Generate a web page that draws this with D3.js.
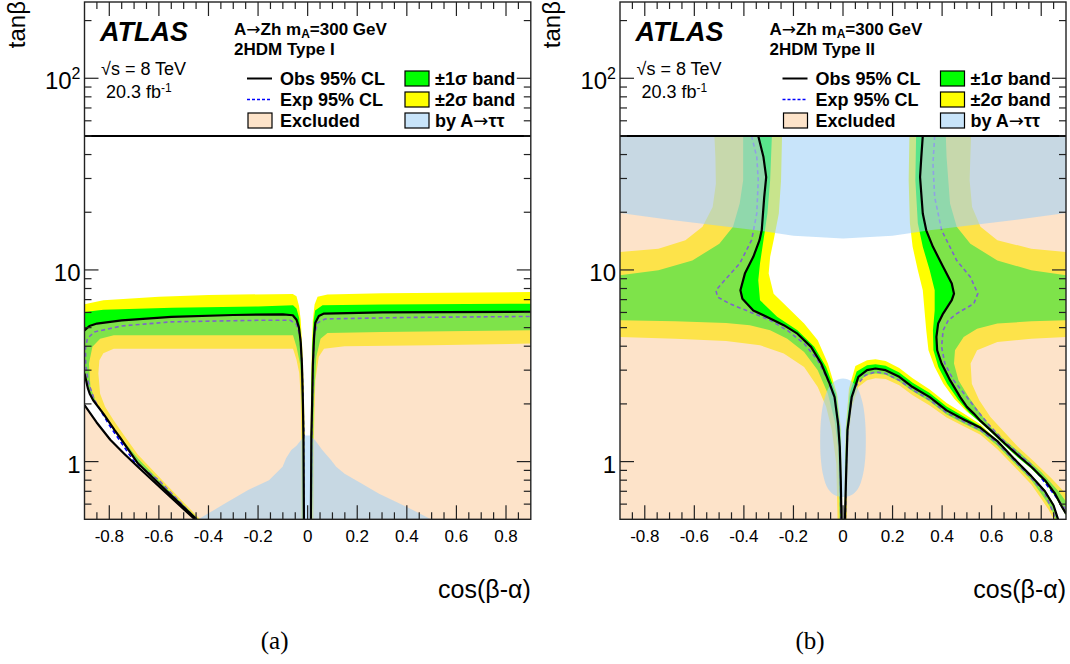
<!DOCTYPE html>
<html>
<head>
<meta charset="utf-8">
<script src="https://cdn.jsdelivr.net/npm/d3@7/dist/d3.min.js"></script>
<style>
html,body{margin:0;padding:0;background:#fff;}
svg{display:block;}
text{font-family:"Liberation Sans",Arial,Helvetica,sans-serif;fill:#000;}
.arr{font-family:"DejaVu Sans",sans-serif;font-weight:normal;}
</style>
</head>
<body>
<svg id="chart" width="1070" height="664"></svg>
<script>
// ---------------- axis data ----------------
const xDomain = [-0.9, 0.9];
const yDomain = [0.5, 250];
const tanbLimit = 50;
const xMajorTicks = [-0.8,-0.6,-0.4,-0.2,0,0.2,0.4,0.6,0.8];
const xTickLabels = ["-0.8","-0.6","-0.4","-0.2","0","0.2","0.4","0.6","0.8"];
const xMinorTicks = [-0.85,-0.75,-0.7,-0.65,-0.55,-0.5,-0.45,-0.35,-0.3,-0.25,-0.15,-0.1,-0.05,0.05,0.1,0.15,0.25,0.3,0.35,0.45,0.5,0.55,0.65,0.7,0.75,0.85];
const yMajorTicks = [1, 10, 100];
const yTickBase = ["1", "10", "10"];
const yTickExp = ["", "", "2"];
const yMinorTicks = [0.6,0.7,0.8,0.9,2,3,4,5,6,7,8,9,20,30,40,50,60,70,80,90,200];
const legendLabels = ["Obs 95% CL", "Exp 95% CL", "Excluded", "\u00B11\u03C3 band", "\u00B12\u03C3 band", "by A|\u03C4\u03C4"];

// ---------------- Type I data (cos(b-a), tan b) ----------------
const obsI_L = [[-0.9,4.84],[-0.88,5.1],[-0.85,5.25],[-0.75,5.45],[-0.55,5.69],[-0.3,5.82],[-0.1,5.87],[-0.06,5.8],[-0.045,5.5],[-0.035,5.0],[-0.028,4.2],[-0.023,3.2],[-0.019,2.0],[-0.017,1.37],[-0.015,0.5]];
const obsI_R = [[0.013,0.5],[0.015,1.37],[0.018,2.0],[0.021,3.2],[0.026,4.5],[0.031,5.3],[0.045,5.75],[0.066,5.92],[0.3,6.0],[0.9,6.05]];
const obsI_S1 = [[-0.9,2.88],[-0.886,2.4],[-0.879,2.26],[-0.865,2.09],[-0.824,1.78],[-0.78,1.47],[-0.754,1.32],[-0.685,0.98],[-0.573,0.71],[-0.448,0.5]];
const obsI_S2 = [[-0.9,1.97],[-0.851,1.6],[-0.796,1.3],[-0.74,1.1],[-0.685,0.94],[-0.573,0.69],[-0.455,0.5]];
const expI_L = [[-0.448,0.5],[-0.6,0.8],[-0.7,1.0],[-0.8,1.55],[-0.86,2.1],[-0.885,2.6],[-0.895,3.2],[-0.896,3.9],[-0.888,4.4],[-0.86,4.75],[-0.75,5.1],[-0.55,5.36],[-0.2,5.46],[-0.07,5.46],[-0.045,5.2],[-0.03,4.5],[-0.022,3.0],[-0.016,1.4],[-0.014,0.5]];
const expI_R = [[0.014,0.5],[0.017,1.4],[0.022,3.0],[0.028,4.6],[0.04,5.3],[0.07,5.55],[0.4,5.65],[0.9,5.72]];
const yelI_L = [[-0.9,6.62],[-0.824,6.95],[-0.6,7.25],[-0.4,7.4],[-0.06,7.5],[-0.045,7.3],[-0.035,6.5],[-0.028,5.5],[-0.022,4.0],[-0.016,2.5],[-0.012,1.37],[-0.012,0.5],[-0.025,0.5],[-0.026,1.46],[-0.028,2.17],[-0.034,2.9],[-0.045,3.4],[-0.059,3.88],[-0.782,3.88],[-0.824,3.68],[-0.84,3.38],[-0.844,2.88],[-0.837,2.26],[-0.817,1.93],[-0.782,1.64],[-0.74,1.37],[-0.685,1.09],[-0.573,0.767],[-0.434,0.5],[-0.448,0.5],[-0.573,0.71],[-0.685,0.98],[-0.754,1.32],[-0.78,1.47],[-0.824,1.78],[-0.865,2.09],[-0.879,2.26],[-0.886,2.4],[-0.9,2.88]];
const grnI_L = [[-0.9,6.04],[-0.824,6.2],[-0.546,6.35],[-0.2,6.45],[-0.059,6.54],[-0.045,6.3],[-0.034,5.6],[-0.025,4.0],[-0.019,2.5],[-0.015,1.37],[-0.014,0.5],[-0.021,0.5],[-0.022,1.46],[-0.025,2.5],[-0.031,3.25],[-0.045,3.97],[-0.059,4.56],[-0.782,4.56],[-0.837,4.38],[-0.868,3.97],[-0.882,3.25],[-0.876,2.45],[-0.851,2.01],[-0.796,1.58],[-0.74,1.27],[-0.685,1.04],[-0.573,0.737],[-0.441,0.5],[-0.448,0.5],[-0.573,0.71],[-0.685,0.98],[-0.754,1.32],[-0.78,1.47],[-0.824,1.78],[-0.865,2.09],[-0.879,2.26],[-0.886,2.4],[-0.9,2.88]];
const yelI_R = [[0.011,0.5],[0.012,1.37],[0.014,2.5],[0.017,4.0],[0.021,5.5],[0.028,6.6],[0.04,7.25],[0.08,7.45],[0.3,7.55],[0.9,7.67],[0.9,4.13],[0.5,4.05],[0.149,4.0],[0.066,3.88],[0.045,3.52],[0.031,2.66],[0.026,1.46],[0.023,0.5]];
const grnI_R = [[0.012,0.5],[0.013,1.37],[0.016,2.5],[0.019,4.0],[0.024,5.4],[0.03,6.15],[0.06,6.54],[0.3,6.6],[0.9,6.67],[0.9,4.84],[0.3,4.75],[0.08,4.69],[0.052,4.38],[0.035,3.52],[0.026,2.17],[0.022,1.2],[0.018,0.5]];
const tauI = [[-0.441,0.5],[-0.337,0.6],[-0.24,0.71],[-0.156,0.8],[-0.101,0.94],[-0.087,1.04],[-0.066,1.15],[-0.045,1.21],[-0.024,1.31],[-0.01,1.37],[0.01,1.37],[0.031,1.29],[0.059,1.15],[0.094,1.02],[0.115,0.94],[0.149,0.865],[0.219,0.767],[0.288,0.68],[0.4,0.58],[0.497,0.5]];

// ---------------- Type II data ----------------
const obsII_L = [[-0.342,50],[-0.321,38.8],[-0.31,30.5],[-0.318,24],[-0.328,16.1],[-0.337,14.3],[-0.362,11.7],[-0.396,9.57],[-0.414,7.83],[-0.406,7.08],[-0.362,6.15],[-0.294,5.58],[-0.239,5.15],[-0.184,4.65],[-0.129,3.97],[-0.088,3.25],[-0.054,2.55],[-0.034,2.17],[-0.02,1.58],[-0.013,1.19],[-0.009,0.8],[-0.006,0.5]];
const obsII_R = [[0.322,50],[0.316,38.8],[0.311,30.5],[0.322,19.7],[0.336,16.1],[0.363,13.2],[0.404,10.4],[0.439,8.49],[0.448,7.52],[0.439,6.95],[0.404,5.92],[0.384,5.25],[0.377,4.47],[0.38,3.81],[0.398,3.25],[0.432,2.66],[0.473,2.17],[0.5,1.93],[0.528,1.78],[0.555,1.63],[0.596,1.46],[0.651,1.25],[0.706,1.08],[0.76,0.94],[0.815,0.8],[0.856,0.68],[0.884,0.58],[0.9,0.535]];
const obsII_M = [[0.008,0.5],[0.012,0.8],[0.018,1.46],[0.035,2.17],[0.062,2.77],[0.097,3.0],[0.131,3.06],[0.172,3.0],[0.227,2.77],[0.281,2.45],[0.35,2.17],[0.418,1.85],[0.487,1.66],[0.555,1.5],[0.623,1.28],[0.692,1.03],[0.76,0.84],[0.815,0.7],[0.85,0.59],[0.868,0.5]];
const expII_L = [[-0.369,50],[-0.348,38.8],[-0.342,29.4],[-0.348,19.7],[-0.369,14.3],[-0.417,10.8],[-0.478,8.83],[-0.513,7.83],[-0.506,7.22],[-0.458,6.67],[-0.376,6.04],[-0.294,5.46],[-0.225,4.84],[-0.157,4.13],[-0.102,3.38],[-0.061,2.66],[-0.034,2.09],[-0.017,1.58],[-0.012,0.98],[-0.009,0.5]];
const expII_R = [[0.37,50],[0.363,35.9],[0.37,24],[0.398,16.1],[0.459,11.2],[0.514,9.19],[0.544,7.52],[0.528,6.67],[0.459,5.92],[0.425,5.46],[0.404,4.84],[0.398,3.97],[0.411,3.25],[0.446,2.66],[0.5,2.17],[0.541,1.85],[0.59,1.55],[0.651,1.28],[0.76,0.96],[0.9,0.56]];
const expII_M = [[0.01,0.5],[0.013,0.9],[0.02,1.5],[0.035,2.1],[0.049,2.45],[0.09,2.82],[0.131,2.94],[0.172,2.88],[0.227,2.66],[0.281,2.37],[0.35,2.1],[0.418,1.8],[0.487,1.62],[0.555,1.46],[0.623,1.25],[0.692,1.01],[0.76,0.82],[0.815,0.68],[0.86,0.5]];
const yelII_L = [[-0.246,50],[-0.25,29.4],[-0.259,19.7],[-0.28,14.3],[-0.294,11.7],[-0.3,9.57],[-0.28,7.52],[-0.225,6.41],[-0.157,5.25],[-0.102,4.3],[-0.061,3.25],[-0.024,2.26],[-0.008,1.46],[-0.004,0.5],[-0.022,0.5],[-0.027,0.976],[-0.045,1.46],[-0.068,1.93],[-0.102,2.45],[-0.157,3.12],[-0.239,3.66],[-0.335,4.05],[-0.472,4.26],[-0.677,4.38],[-0.9,4.47],[-0.9,12.4],[-0.745,12.9],[-0.636,14.3],[-0.567,16.8],[-0.526,21.3],[-0.513,28.2],[-0.515,38.8],[-0.519,50]];
const grnII_L = [[-0.287,50],[-0.294,29.4],[-0.305,19.7],[-0.321,14.3],[-0.335,10.8],[-0.342,8.83],[-0.335,6.95],[-0.266,5.69],[-0.184,4.84],[-0.116,3.97],[-0.068,3.12],[-0.028,2.26],[-0.011,1.46],[-0.005,0.5],[-0.014,0.5],[-0.02,1.19],[-0.034,1.64],[-0.061,2.26],[-0.102,3.0],[-0.157,3.73],[-0.225,4.38],[-0.294,4.84],[-0.376,5.15],[-0.472,5.29],[-0.677,5.4],[-0.9,5.46],[-0.9,9.38],[-0.745,9.96],[-0.608,11.2],[-0.499,13.7],[-0.444,16.8],[-0.417,22.2],[-0.403,29.4],[-0.403,38.8],[-0.403,50]];
const yelII_R = [[0.268,50],[0.265,29.4],[0.27,17.5],[0.281,13.2],[0.302,9.96],[0.322,7.83],[0.329,6.15],[0.336,4.84],[0.345,3.81],[0.37,3.12],[0.405,2.55],[0.45,2.12],[0.5,1.82],[0.535,1.68],[0.555,1.6],[0.596,1.43],[0.651,1.22],[0.706,1.05],[0.76,0.92],[0.815,0.78],[0.856,0.66],[0.884,0.57],[0.9,0.525],[0.9,0.68],[0.84,0.82],[0.775,0.99],[0.705,1.2],[0.65,1.43],[0.595,1.71],[0.55,2.09],[0.52,2.55],[0.515,3.25],[0.541,3.81],[0.623,4.21],[0.76,4.38],[0.9,4.47],[0.9,12.4],[0.76,12.9],[0.623,14.3],[0.555,16.8],[0.521,21.3],[0.511,29.4],[0.514,38.8],[0.517,50]];
const grnII_R = [[0.295,50],[0.292,29.4],[0.302,17.5],[0.322,13.2],[0.35,9.96],[0.37,7.83],[0.37,6.15],[0.363,4.84],[0.365,3.81],[0.385,3.12],[0.42,2.55],[0.465,2.1],[0.51,1.8],[0.54,1.66],[0.555,1.6],[0.596,1.43],[0.651,1.22],[0.706,1.05],[0.76,0.92],[0.815,0.78],[0.856,0.66],[0.884,0.57],[0.9,0.525],[0.9,0.62],[0.87,0.7],[0.801,0.88],[0.719,1.1],[0.651,1.3],[0.596,1.52],[0.555,1.78],[0.507,2.17],[0.466,2.66],[0.448,3.25],[0.452,3.81],[0.487,4.47],[0.541,4.94],[0.623,5.25],[0.76,5.4],[0.9,5.46],[0.9,9.38],[0.76,9.96],[0.623,11.2],[0.514,13.7],[0.459,16.8],[0.432,22.2],[0.425,29.4],[0.418,38.8],[0.415,50]];
const yelII_M = [[0.0065,0.5],[0.007,0.9],[0.011,1.5],[0.024,2.4],[0.05,3.15],[0.097,3.38],[0.131,3.42],[0.172,3.35],[0.227,3.08],[0.281,2.72],[0.35,2.38],[0.418,2.02],[0.487,1.78],[0.555,1.56],[0.623,1.29],[0.692,1.04],[0.76,0.85],[0.815,0.71],[0.85,0.6],[0.87,0.5],[0.85,0.5],[0.83,0.56],[0.8,0.64],[0.76,0.76],[0.692,0.94],[0.623,1.16],[0.555,1.38],[0.487,1.53],[0.418,1.7],[0.35,1.96],[0.281,2.22],[0.227,2.5],[0.172,2.7],[0.131,2.72],[0.097,2.66],[0.062,2.45],[0.035,1.9],[0.022,1.3],[0.017,0.8],[0.016,0.5]];
const grnII_M = [[0.007,0.5],[0.009,0.9],[0.014,1.5],[0.028,2.3],[0.055,2.95],[0.097,3.18],[0.131,3.22],[0.172,3.16],[0.227,2.92],[0.281,2.58],[0.35,2.28],[0.418,1.94],[0.487,1.72],[0.555,1.53],[0.623,1.29],[0.692,1.04],[0.76,0.85],[0.815,0.71],[0.85,0.6],[0.87,0.5],[0.858,0.5],[0.84,0.57],[0.8,0.68],[0.76,0.8],[0.692,0.98],[0.623,1.21],[0.555,1.43],[0.487,1.58],[0.418,1.76],[0.35,2.06],[0.281,2.33],[0.227,2.62],[0.172,2.84],[0.131,2.88],[0.097,2.83],[0.062,2.62],[0.035,2.02],[0.02,1.4],[0.014,0.8],[0.012,0.5]];
const tauII_edge = [[-0.9,19.8],[-0.7,18.3],[-0.5,17.0],[-0.35,16.1],[-0.2,15.1],[0,14.6],[0.2,15.1],[0.35,16.1],[0.5,17.0],[0.7,18.3],[0.9,19.8]];
const tauII_low = [[0,2.71],[0.035,2.62],[0.06,2.4],[0.078,2.05],[0.088,1.7],[0.092,1.35],[0.09,1.05],[0.08,0.85],[0.06,0.72],[0.03,0.665],[0,0.654],[-0.03,0.665],[-0.06,0.72],[-0.08,0.85],[-0.09,1.05],[-0.092,1.35],[-0.088,1.7],[-0.078,2.05],[-0.06,2.4],[-0.035,2.62]];

// ---------------- panels built from the arrays ----------------
const corner = (a, b) => [a, b];
const panels = [
  { left: 84.5, right: 530.8, type: "2HDM Type I", caption: "(a)", dx: 0,
    yellow: [yelI_L, yelI_R], green: [grnI_L, grnI_R], exp: [expI_L, expI_R],
    excl: [obsI_L.concat(obsI_S1.slice().reverse()), obsI_S2.concat([corner(-0.9,0.5)]), obsI_R.concat([corner(0.9,0.5)])],
    tau: [tauI], tauSmooth: [],
    obs: [obsI_L, obsI_R, obsI_S1, obsI_S2] },
  { left: 620, right: 1066, type: "2HDM Type II", caption: "(b)", dx: 535.5,
    yellow: [yelII_L, yelII_R, yelII_M], green: [grnII_L, grnII_R, grnII_M], exp: [expII_L, expII_R, expII_M],
    excl: [obsII_L.concat([corner(-0.9,0.5), corner(-0.9,50)]), obsII_M, obsII_R.concat([corner(0.9,50)])],
    tau: [tauII_edge.slice().reverse().concat([corner(-0.9,50), corner(0.9,50)])], tauSmooth: [tauII_low],
    obs: [obsII_L, obsII_R, obsII_M] }
];

const svg = d3.select("#chart");
const plotTop = 2, plotBottom = 519.3;
const defs = svg.append("defs");

function arrowText(sel, str) {
  // splits on "|" where a long arrow glyph is placed
  const parts = str.split("|");
  parts.forEach((p, i) => {
    if (i > 0) sel.append("tspan").attr("class", "arr").text("\u2192");
    sel.append("tspan").text(p);
  });
}

panels.forEach((P, idx) => {
  const x = d3.scaleLinear().domain(xDomain).range([P.left, P.right]);
  const y = d3.scaleLog().domain(yDomain).range([plotBottom, plotTop]);
  const line = d3.line().x(d => x(d[0])).y(d => y(d[1]));
  const smooth = d3.line().x(d => x(d[0])).y(d => y(d[1])).curve(d3.curveCatmullRomClosed);
  const ring = pts => line(pts) + "Z";
  const id = "clip" + idx;
  defs.append("clipPath").attr("id", id).append("rect")
    .attr("x", P.left).attr("y", y(tanbLimit))
    .attr("width", P.right - P.left).attr("height", plotBottom - y(tanbLimit));
  const g = svg.append("g").attr("clip-path", `url(#${id})`);
  P.yellow.forEach(r => g.append("path").attr("d", ring(r)).attr("fill", "#ffff00"));
  P.green.forEach(r => g.append("path").attr("d", ring(r)).attr("fill", "#00ff00"));
  P.exp.forEach(l => g.append("path").attr("d", line(l)).attr("fill", "none")
    .attr("stroke", "#0000ff").attr("stroke-width", 1.6).attr("stroke-dasharray", "4,3"));
  P.excl.forEach(r => g.append("path").attr("d", ring(r)).attr("fill", "#fbc793").attr("fill-opacity", 0.5));
  P.tau.forEach(r => g.append("path").attr("d", ring(r)).attr("fill", "#9ed0f6").attr("fill-opacity", 0.57));
  P.tauSmooth.forEach(r => g.append("path").attr("d", smooth(r)).attr("fill", "#9ed0f6").attr("fill-opacity", 0.57));
  P.obs.forEach(l => g.append("path").attr("d", line(l)).attr("fill", "none")
    .attr("stroke", "#000").attr("stroke-width", 2.2).attr("stroke-linejoin", "round"));

  // tan(beta)=50 line
  svg.append("line").attr("x1", P.left).attr("x2", P.right)
    .attr("y1", y(tanbLimit)).attr("y2", y(tanbLimit)).attr("stroke", "#000").attr("stroke-width", 2);
  // frame
  svg.append("rect").attr("x", P.left).attr("y", plotTop).attr("width", P.right - P.left)
    .attr("height", plotBottom - plotTop).attr("fill", "none").attr("stroke", "#222").attr("stroke-width", 1.4);
  // ticks
  const tk = svg.append("g").attr("stroke", "#222").attr("stroke-width", 1.2);
  const xt = (v, len) => {
    tk.append("line").attr("x1", x(v)).attr("x2", x(v)).attr("y1", plotBottom).attr("y2", plotBottom - len);
    tk.append("line").attr("x1", x(v)).attr("x2", x(v)).attr("y1", plotTop).attr("y2", plotTop + len);
  };
  const yt = (v, len) => {
    tk.append("line").attr("x1", P.left).attr("x2", P.left + len).attr("y1", y(v)).attr("y2", y(v));
    tk.append("line").attr("x1", P.right).attr("x2", P.right - len).attr("y1", y(v)).attr("y2", y(v));
  };
  xMajorTicks.forEach(v => xt(v, 14));
  xMinorTicks.forEach(v => xt(v, 7));
  yMajorTicks.forEach(v => yt(v, 14));
  yMinorTicks.forEach(v => yt(v, 7));

  // tick labels
  xMajorTicks.forEach((v, i) => svg.append("text").attr("x", x(v)).attr("y", 542)
    .attr("text-anchor", "middle").attr("font-size", 17).text(xTickLabels[i]));
  yMajorTicks.forEach((v, i) => {
    const t = svg.append("text").attr("x", P.left - 4).attr("y", y(v) + 11)
      .attr("text-anchor", "end").attr("font-size", 24);
    t.append("tspan").text(yTickBase[i]);
    if (yTickExp[i]) t.append("tspan").attr("dy", -10).attr("font-size", 16).text(yTickExp[i]);
  });
  // axis titles
  svg.append("text").attr("x", P.right).attr("y", 598).attr("text-anchor", "end")
    .attr("font-size", 25).text("cos(\u03B2-\u03B1)");
  svg.append("text").attr("transform", `translate(${P.left - 60},1) rotate(-90)`)
    .attr("text-anchor", "end").attr("font-size", 24).text("tan\u03B2");
  // caption
  svg.append("text").attr("x", (P.left + P.right) / 2 - 33).attr("y", 649).attr("text-anchor", "middle")
    .style("font-family", '"Liberation Serif","Times New Roman",serif').attr("font-size", 25).text(P.caption);

  // legend / labels
  const L = svg.append("g").attr("transform", `translate(${P.dx},0)`);
  L.append("text").attr("x", 100).attr("y", 41).attr("font-size", 27)
    .attr("font-weight", "bold").attr("font-style", "italic").text("ATLAS");
  const t1 = L.append("text").attr("x", 234).attr("y", 35).attr("font-size", 17).attr("font-weight", "bold");
  arrowText(t1, "A|Zh m");
  t1.append("tspan").attr("dy", 3).attr("font-size", 12).text("A");
  t1.append("tspan").attr("dy", -3).text("=300 GeV");
  L.append("text").attr("x", 234).attr("y", 55).attr("font-size", 17).attr("font-weight", "bold").text(P.type);
  L.append("text").attr("x", 101).attr("y", 75).attr("font-size", 18).text("\u221As = 8 TeV");
  const t2 = L.append("text").attr("x", 106).attr("y", 98).attr("font-size", 18);
  t2.append("tspan").text("20.3 fb");
  t2.append("tspan").attr("dy", -6).attr("font-size", 12).text("-1");

  const rowY = [78.5, 99.5, 120.5];
  // column 1
  L.append("line").attr("x1", 247).attr("x2", 272).attr("y1", rowY[0]).attr("y2", rowY[0])
    .attr("stroke", "#000").attr("stroke-width", 2);
  L.append("line").attr("x1", 247).attr("x2", 272).attr("y1", rowY[1]).attr("y2", rowY[1])
    .attr("stroke", "#0000ff").attr("stroke-width", 1.6).attr("stroke-dasharray", "3,2");
  L.append("rect").attr("x", 248).attr("y", rowY[2] - 7.5).attr("width", 24).attr("height", 15)
    .attr("fill", "#fbc793").attr("fill-opacity", 0.5).attr("stroke", "#000").attr("stroke-width", 1.2);
  // column 2
  const boxFill = [["#00ff00", 1], ["#ffff00", 1], ["#9ed0f6", 0.57]];
  boxFill.forEach((f, i) => L.append("rect").attr("x", 405).attr("y", rowY[i] - 7.5).attr("width", 24).attr("height", 15)
    .attr("fill", f[0]).attr("fill-opacity", f[1]).attr("stroke", "#000").attr("stroke-width", 1.2));
  legendLabels.forEach((s, i) => {
    const t = L.append("text").attr("x", i < 3 ? 280 : 435).attr("y", rowY[i % 3] + 6.5)
      .attr("font-size", 18).attr("font-weight", "bold");
    arrowText(t, s);
  });
});
</script>
</body>
</html>
